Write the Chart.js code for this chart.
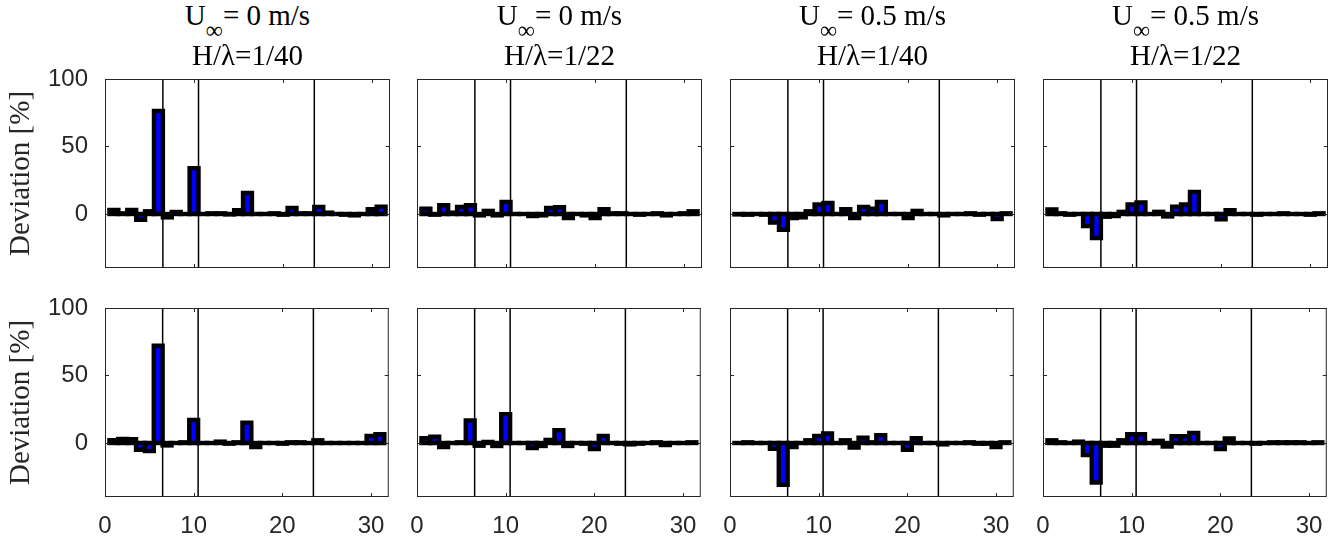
<!DOCTYPE html>
<html>
<head>
  <title>Deviation per sensor</title>
  <script src="https://cdn.jsdelivr.net/npm/chart.js@4.4.0/dist/chart.umd.min.js"></script>
  <style>
    body { margin: 0; background: #fff; }
    #wrap { position: relative; width: 1339px; height: 550px; overflow: hidden; }
    canvas { position: absolute; }
    .title { position: absolute; width: 285px; text-align: center; font-family: "Liberation Serif", serif;
             font-size: 29px; line-height: 29px; color: #000; white-space: nowrap; }
    .title sub { font-size: 24px; vertical-align: -13px; line-height: 0; }
  </style>
</head>
<body>
<div id="wrap"></div>
<script>
  // sensor positions along the x axis
  var sensors = [1, 2, 3, 4, 5, 6, 7, 8, 9, 10, 11, 12, 13, 14, 15, 16,
                 17, 18, 19, 20, 21, 22, 23, 24, 25, 26, 27, 28, 29, 30, 31];
  // vertical reference lines
  var markerLines = [6.5, 10.5, 23.5];
  var xTicks = [0, 10, 20, 30];
  var yTicks = [0, 50, 100];
  var xMin = 0, xMax = 32, yMin = -40, yMax = 100;

  // column headings
  var speeds = ['0', '0', '0.5', '0.5'];
  var steepness = ['1/40', '1/22', '1/40', '1/22'];

  // deviation [%], top row
  var topU0a  = [3, 0.5, 3, -4.3, 2, 76.3, -2.5, 1.5, 0, 34, 0, 0.5, 0.5, -0.3, 2.8, 15.6,
                 0, 0, 0.5, -0.5, 4.5, 0.5, 0.5, 5.3, 1, 0, -0.5, -1, 0, 3.5, 5.5];
  var topU0b  = [4, -0.5, 6.5, 1, 5.3, 6.5, -1, 2.3, -1, 9, 0, 0, -1.5, -1, 4.5, 5,
                 -3, 0, -1, -3, 3.5, 0.5, 0.5, 0, -0.5, 0, 0.5, -1, 0, 0.5, 2];
  var topU5a  = [-0.3, -0.5, 0, -0.5, -6.3, -11.7, -3, -2.5, 2, 7, 8.2, 0, 3.5, -3, 5.3, 4,
                 9, 0, 0, -3, 2.3, 0, 0, -1, 0, 0, 0.5, -0.5, 0, -3.8, 0.5];
  var topU5b  = [3.3, 0.5, -0.5, 0, -9, -17.8, -2, -1.5, 1.6, 7, 8.5, 0, 1.6, -1.8, 5.5, 7,
                 16.4, 0, 0, -4, 2.8, 0, 0, -0.5, 0, 0, 0.5, 0, 0, -0.5, 0.5];
  // deviation [%], bottom row
  var botU0a  = [2.1, 3, 2.8, -5, -6, 72, -1.8, 0, 0.5, 17, 0, 0, 1, -0.5, 0.5, 15,
                 -3, 0, 0, -0.5, 0.5, 0.5, 0, 2, 0, 0, 0, 0, 0, 5.3, 6.5];
  var botU0b  = [3.6, 4.6, -3, 0, 0.5, 16.7, -2, 0.8, -2.2, 21.4, 0, 0, -3.8, -2.2, 2.3, 9.5,
                 -2.2, 0, -0.5, -4.4, 5.3, 0, -0.5, -1, -0.5, 0, 0.5, -1.5, 0, 0, 0.5];
  var botU5a  = [0, 0.5, 0, 0, -4.3, -31, -3, 0, 2, 5.3, 7, 0, 2, -3.3, 4, 0.5,
                 5.8, 0, 0, -5, 3.6, 0, 0, -1, 0, 0, 0.5, -0.5, -0.5, -3, 0.5];
  var botU5b  = [2, 0.5, 0, 1, -9, -29.3, -2, -2, 2, 6.5, 6.5, 0, 1.6, -2.6, 5, 5,
                 7.5, 0, 0, -4.4, 3.3, 0, 0, -0.5, 0, 0.5, 0.5, 0.5, 0.5, 0, 0.5];

  var rows = [[topU0a, topU0b, topU5a, topU5b], [botU0a, botU0b, botU5a, botU5b]];

  // layout of the plot boxes
  var colLeft = [105, 417, 730, 1043];
  var rowTop = [79, 308];
  var boxW = 285, boxH = 189;
  var padL = 105, padT = 35, padR = 10, padB = 53;
  var edge = 4.4; // thick bar outline, centred on the bar edge

  // thick black outline around each bar (stroke centred on the edge)
  var barEdges = {
    id: 'barEdges',
    afterDatasetDraw: function(chart, args) {
      if (args.meta.type !== 'bar') return;
      var ctx = chart.ctx, h = edge / 2;
      ctx.save();
      ctx.fillStyle = '#000';
      args.meta.data.forEach(function(el) {
        var l = el.x - el.width / 2, t = Math.min(el.y, el.base);
        var w = el.width, ht = Math.abs(el.base - el.y);
        ctx.beginPath();
        ctx.rect(l - h, t - h, w + edge, ht + edge);
        if (w > edge && ht > edge) ctx.rect(l + h, t + h, w - edge, ht - edge);
        ctx.fill('evenodd');
      });
      ctx.restore();
    }
  };

  // frame with inward ticks, like the original axes
  var boxPlugin = {
    id: 'box',
    afterDraw: function(chart) {
      var ctx = chart.ctx, a = chart.chartArea, x = chart.scales.x, y = chart.scales.y;
      var t = 4;
      ctx.save();
      ctx.strokeStyle = '#262626';
      ctx.lineWidth = 1;
      ctx.beginPath();
      xTicks.forEach(function(v) {
        var px = Math.round(x.getPixelForValue(v)) + 0.5;
        ctx.moveTo(px, a.bottom); ctx.lineTo(px, a.bottom - t);
        ctx.moveTo(px, a.top); ctx.lineTo(px, a.top + t);
      });
      yTicks.forEach(function(v) {
        var py = Math.round(y.getPixelForValue(v)) + 0.5;
        ctx.moveTo(a.left, py); ctx.lineTo(a.left + t, py);
        ctx.moveTo(a.right, py); ctx.lineTo(a.right - t, py);
      });
      ctx.stroke();
      ctx.strokeRect(a.left + 0.5, a.top + 0.5, a.width - 1, a.height - 1);
      ctx.restore();
    }
  };

  var wrap = document.getElementById('wrap');

  function makePanel(values, r, c) {
    var cv = document.createElement('canvas');
    cv.width = padL + boxW + padR;
    cv.height = padT + boxH + padB;
    cv.style.left = (colLeft[c] - padL) + 'px';
    cv.style.top = (rowTop[r] - padT) + 'px';
    wrap.appendChild(cv);

    var showX = r === 1, showY = c === 0;
    var lineSets = markerLines.map(function(v) {
      return {
        type: 'line',
        data: [{x: v, y: yMin}, {x: v, y: yMax}],
        borderColor: '#000', borderWidth: 1.5, pointRadius: 0, order: 0
      };
    });

    return new Chart(cv, {
      type: 'bar',
      data: {
        datasets: lineSets.concat([{
          type: 'bar',
          data: sensors.map(function(s, i) { return {x: s, y: values[i]}; }),
          backgroundColor: '#0000ff',
          borderWidth: 0,
          inflateAmount: 0,
          barPercentage: 1,
          categoryPercentage: 1,
          order: 1
        }])
      },
      options: {
        responsive: false,
        animation: false,
        layout: { padding: { left: 0, top: padT, right: padR, bottom: 0 } },
        plugins: { legend: { display: false }, tooltip: { enabled: false } },
        scales: {
          x: {
            type: 'linear', min: xMin, max: xMax, offset: false,
            afterBuildTicks: function(s) { s.ticks = xTicks.map(function(v) { return {value: v}; }); },
            afterFit: function(s) { s.height = padB; },
            grid: { display: false, drawTicks: false },
            border: { display: false },
            ticks: { display: showX, padding: 15, color: '#262626',
                     font: { family: 'Liberation Sans', size: 24 } }
          },
          y: {
            type: 'linear', min: yMin, max: yMax,
            afterBuildTicks: function(s) { s.ticks = yTicks.map(function(v) { return {value: v}; }); },
            afterFit: function(s) { s.width = padL; },
            grid: { display: false, drawTicks: false },
            border: { display: false },
            ticks: { display: showY, padding: 17, color: '#262626',
                     font: { family: 'Liberation Sans', size: 24 } },
            title: { display: showY, text: 'Deviation [%]', color: '#262626',
                     font: { family: 'Liberation Serif', size: 29 }, padding: { top: 4, bottom: 4 } }
          }
        }
      },
      plugins: [barEdges, boxPlugin]
    });
  }

  rows.forEach(function(row, r) {
    row.forEach(function(values, c) { makePanel(values, r, c); });
  });

  // column headings
  speeds.forEach(function(u, c) {
    var t1 = document.createElement('div');
    t1.className = 'title';
    t1.style.left = colLeft[c] + 'px';
    t1.style.top = '1px';
    t1.innerHTML = 'U<sub>\u221e</sub>= ' + u + ' m/s';
    wrap.appendChild(t1);
    var t2 = document.createElement('div');
    t2.className = 'title';
    t2.style.left = colLeft[c] + 'px';
    t2.style.top = '41px';
    t2.textContent = 'H/\u03bb=' + steepness[c];
    wrap.appendChild(t2);
  });
</script>
</body>
</html>
